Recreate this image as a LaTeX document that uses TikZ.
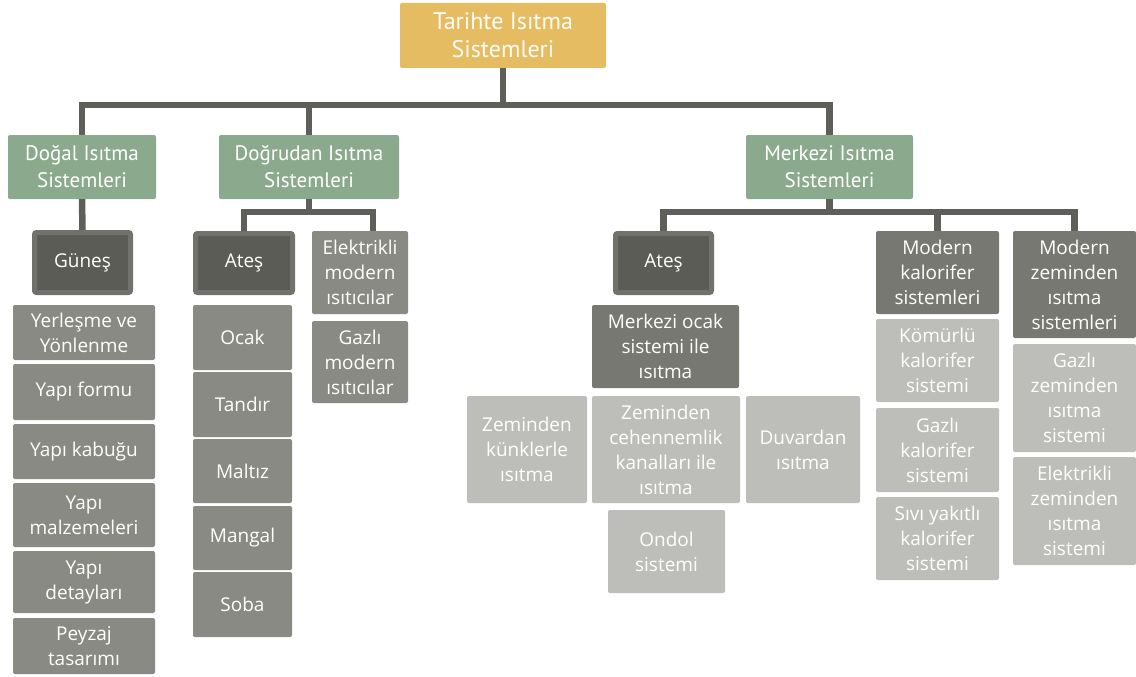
\documentclass[tikz,border=0pt]{standalone}
\usepackage{fontspec}
\newfontfamily\headfont{PT Sans}
\newfontfamily\boxfont{Open Sans}

\definecolor{gold}{HTML}{E5BC62}
\definecolor{sage}{HTML}{8BAA8D}
\definecolor{darkbox}{HTML}{5C5C56}
\definecolor{darkrim}{HTML}{72726D}
\definecolor{midbox}{HTML}{8A8A85}
\definecolor{subbox}{HTML}{787873}
\definecolor{lightbox}{HTML}{BDBDB9}
\definecolor{linkgray}{HTML}{5F5F59}

\tikzset{
  base/.style={rectangle, rounded corners=2pt, align=center, inner sep=0pt,
    text=white, font=\boxfont\fontsize{19}{25}\selectfont},
  top/.style={base, fill=gold, text=white!95!gold, font=\headfont\fontsize{24}{28}\selectfont},
  group/.style={base, fill=sage, font=\headfont\fontsize{21}{27}\selectfont},
  source/.style={base, fill=darkbox, draw=darkrim, line width=5pt},
  item/.style={base, fill=midbox},
  sub/.style={base, fill=subbox},
  leaf/.style={base, fill=lightbox},
  link/.style={draw=linkgray, line width=6.5pt},
}

\begin{document}
\begin{tikzpicture}[x=1pt,y=-1pt]
\useasboundingbox (0,0) rectangle (1136,677);

% top
\node[top, minimum width=206pt, minimum height=65pt] (root) at (503,35.5) {Tarihte Isıtma\\Sistemleri};

% groups
\node[group, minimum width=148pt, minimum height=64pt] (dogal) at (82,167) {Doğal Isıtma\\Sistemleri};
\node[group, minimum width=180pt, minimum height=64pt] (dogrudan) at (309,167) {Doğrudan Isıtma\\Sistemleri};
\node[group, minimum width=167pt, minimum height=64pt] (merkezi) at (829.5,167) {Merkezi Isıtma\\Sistemleri};

% sources
\node[source, minimum width=96pt, minimum height=60pt] (gunes) at (82.5,262.5) {Güneş};
\node[source, minimum width=97pt, minimum height=59pt] (ates1) at (244,263) {Ateş};
\node[source, minimum width=96pt, minimum height=59pt] (ates2) at (663.5,263) {Ateş};

% natural heating
\node[item, minimum width=142pt, minimum height=55pt] (yerlesme) at (84,332.5) {Yerleşme ve\\Yönlenme};
\node[item, minimum width=142pt, minimum height=56pt] (formu) at (84,392) {Yapı formu};
\node[item, minimum width=142pt, minimum height=55pt] (kabugu) at (84,451.5) {Yapı kabuğu};
\node[item, minimum width=142pt, minimum height=64pt] (malzeme) at (84,515) {Yapı\\malzemeleri};
\node[item, minimum width=142pt, minimum height=62pt] (detay) at (84,582) {Yapı\\detayları};
\node[item, minimum width=142pt, minimum height=56pt] (peyzaj) at (84,646) {Peyzaj\\tasarımı};

% direct heating
\node[item, minimum width=99pt, minimum height=65pt] (ocak) at (242.5,337.5) {Ocak};
\node[item, minimum width=99pt, minimum height=65pt] (tandir) at (242.5,404.5) {Tandır};
\node[item, minimum width=99pt, minimum height=64pt] (maltiz) at (242.5,471) {Maltız};
\node[item, minimum width=99pt, minimum height=64pt] (mangal) at (242.5,538) {Mangal};
\node[item, minimum width=99pt, minimum height=65pt] (soba) at (242.5,604.5) {Soba};
\node[item, minimum width=96pt, minimum height=83pt] (elektrikli) at (360,272.5) {Elektrikli\\modern\\ısıtıcılar};
\node[item, minimum width=96pt, minimum height=82pt] (gazli) at (360,362) {Gazlı\\modern\\ısıtıcılar};

% central heating
\node[sub, minimum width=147pt, minimum height=83pt] (mocak) at (665.5,346.5) {Merkezi ocak\\sistemi ile\\ısıtma};
\node[leaf, minimum width=120pt, minimum height=107pt] (kunk) at (527,449.5) {Zeminden\\künklerle\\ısıtma};
\node[leaf, minimum width=148pt, minimum height=107pt] (cehennem) at (666,449.5) {Zeminden\\cehennemlik\\kanalları ile\\ısıtma};
\node[leaf, minimum width=114pt, minimum height=107pt] (duvar) at (803,449.5) {Duvardan\\ısıtma};
\node[leaf, minimum width=117pt, minimum height=83pt] (ondol) at (666.5,551.5) {Ondol\\sistemi};

\node[sub, minimum width=123pt, minimum height=83pt] (mkalor) at (937.5,272.5) {Modern\\kalorifer\\sistemleri};
\node[leaf, minimum width=123pt, minimum height=83pt] (komur) at (937.5,360.5) {Kömürlü\\kalorifer\\sistemi};
\node[leaf, minimum width=123pt, minimum height=84pt] (gkalor) at (937.5,450) {Gazlı\\kalorifer\\sistemi};
\node[leaf, minimum width=123pt, minimum height=83pt] (sivi) at (937.5,538.5) {Sıvı yakıtlı\\kalorifer\\sistemi};

\node[sub, minimum width=123pt, minimum height=107pt] (mzemin) at (1074.5,284.5) {Modern\\zeminden\\ısıtma\\sistemleri};
\node[leaf, minimum width=123pt, minimum height=108pt] (gzemin) at (1074.5,398) {Gazlı\\zeminden\\ısıtma\\sistemi};
\node[leaf, minimum width=123pt, minimum height=108pt] (ezemin) at (1074.5,511) {Elektrikli\\zeminden\\ısıtma\\sistemi};

% connectors
\coordinate (bus) at (0,105);
\coordinate (rail) at (0,212);
\coordinate (elekdrop) at ([xshift=-35pt]elektrikli.north east);

\draw[link] (root.south) -- (root.south |- bus);
\draw[link] (dogal.north) |- (merkezi.north |- bus) -- (merkezi.north);
\draw[link] (dogrudan.north) -- (dogrudan.north |- bus);

\draw[link] (dogal.south) -- (gunes.north);

\draw[link] (dogrudan.south) -- (dogrudan.south |- rail);
\draw[link] (ates1.north) |- (elekdrop |- rail) -- (elekdrop);

\draw[link] (merkezi.south) -- (merkezi.south |- rail);
\draw[link] (ates2.north) |- (mzemin.north |- rail) -- (mzemin.north);
\draw[link] (mkalor.north) -- (mkalor.north |- rail);

\end{tikzpicture}
\end{document}
